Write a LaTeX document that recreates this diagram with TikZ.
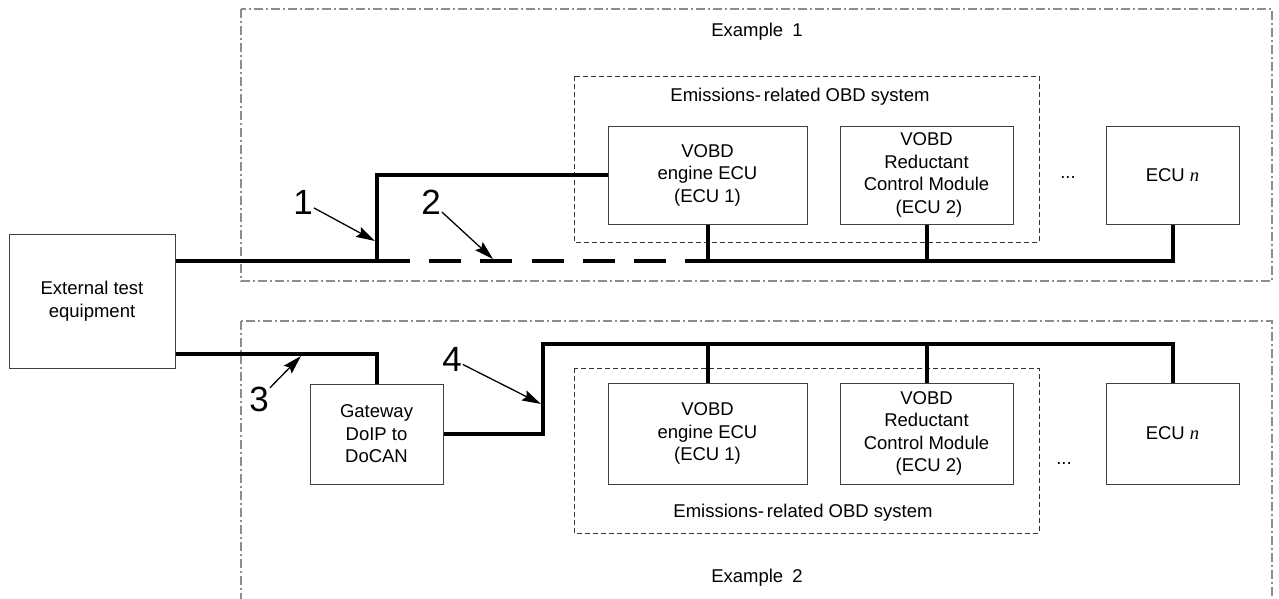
\documentclass[tikz,border=0pt]{standalone}
\usepackage{fontspec}
\setmainfont{Liberation Sans}
\newfontfamily\timesfont{Liberation Serif}
\usepackage{tikz}
\usetikzlibrary{arrows.meta}
\tikzset{box/.style={rectangle,draw=black!75,line width=1pt,align=center,inner sep=0pt}}
\tikzset{bus/.style={line width=4pt}}
\tikzset{frame/.style={draw=black!45,line width=1.2pt,dash pattern=on 9pt off 3pt on 2pt off 3pt}}
\tikzset{group/.style={draw=black!80,line width=1pt,dash pattern=on 5pt off 3pt}}
\tikzset{num/.style={font=\fontsize{35}{40}\selectfont,inner sep=1pt}}
\tikzset{pointer/.style={->,line width=1.3pt}}

\begin{document}
\begin{tikzpicture}[>={Stealth[length=19pt,width=11pt,inset=3pt]},x=1pt,y=-1pt,font=\fontsize{18.5}{22.5}\selectfont]
    \useasboundingbox (0,0) rectangle (1279,598);
    \clip (0,0) rectangle (1279,598);

    % frames
    \draw[frame] (241,9) rectangle (1272,281);
    \draw[frame] (241,321) rectangle (1272,640);
    \draw[group] (574,76) rectangle (1039,242);
    \draw[group] (574,368) rectangle (1039,533);

    \node[box,minimum width=166pt,minimum height=134pt] (ext) at (92,301) {External test\\equipment};

    % example 1
    \node (ex1) at (757,32) {Example\enspace 1};
    \node (obd1) at (800,97) {Emissions-\,related OBD system};
    \node[box,minimum width=199pt,minimum height=98pt] (ecua) at (707.5,175) {VOBD\\engine ECU\\(ECU 1)};
    \node[box,minimum width=173pt,minimum height=98pt] (ecub) at (926.5,175) {VOBD\\Reductant\\Control Module\\\hspace{5pt}(ECU 2)};
    \node[anchor=base] (dots1) at (1068,178) {...};
    \node[box,minimum width=133pt,minimum height=98pt] (ecun) at (1172.5,175) {ECU {\timesfont\itshape n}};

    % example 2
    \node (ex2) at (757,578) {Example\enspace 2};
    \node (obd2) at (803,513) {Emissions-\,related OBD system};
    \node[box,minimum width=133pt,minimum height=100pt] (gw) at (376.5,434) {Gateway\\DoIP to\\DoCAN};
    \node[box,minimum width=199pt,minimum height=101pt] (ecuc) at (707.5,433.5) {VOBD\\engine ECU\\(ECU 1)};
    \node[box,minimum width=173pt,minimum height=101pt] (ecud) at (926.5,433.5) {VOBD\\Reductant\\Control Module\\\hspace{5pt}(ECU 2)};
    \node[anchor=base] (dots2) at (1064,464) {...};
    \node[box,minimum width=133pt,minimum height=101pt] (ecum) at (1172.5,433.5) {ECU {\timesfont\itshape n}};

    % labels
    \node[num] (n1) at (303,202) {1};
    \node[num] (n2) at (431,202) {2};
    \node[num] (n3) at (259,399) {3};
    \node[num] (n4) at (452,359) {4};

    \coordinate (j1) at (377,261);
    \coordinate (d1) at (410,261);
    \coordinate (d2) at (686,261);
    \coordinate (c3) at (376.5,354);
    \coordinate (k1) at (543,344);

    % bus example 1
    \draw[bus] (ext.east |- j1) -- (d1);
    \draw[bus,dash pattern=on 32pt off 19.2pt,dash phase=32pt] (d1) -- (d2);
    \draw[bus] (d2) -- (ecun.south |- d2) -- (ecun.south);
    \draw[bus] (ecua.south) -- (ecua.south |- d2);
    \draw[bus] (ecub.south) -- (ecub.south |- d2);
    \draw[bus] (j1) |- (ecua.west);

    % bus example 2
    \draw[bus] (ext.east |- c3) -| (gw.north);
    \draw[bus] (gw.east) -| (k1) -- (ecum.north |- k1) -- (ecum.north);
    \draw[bus] (ecuc.north |- k1) -- (ecuc.north);
    \draw[bus] (ecud.north |- k1) -- (ecud.north);

    \coordinate (p1) at (375,241);
    \coordinate (p2) at (493,259);
    \coordinate (p3) at (301,356);
    \coordinate (p4) at (541,404);
    \draw[pointer] (n1) -- (p1);
    \draw[pointer] (n2) -- (p2);
    \draw[pointer] (n3) -- (p3);
    \draw[pointer] (n4) -- (p4);
\end{tikzpicture}
\end{document}
